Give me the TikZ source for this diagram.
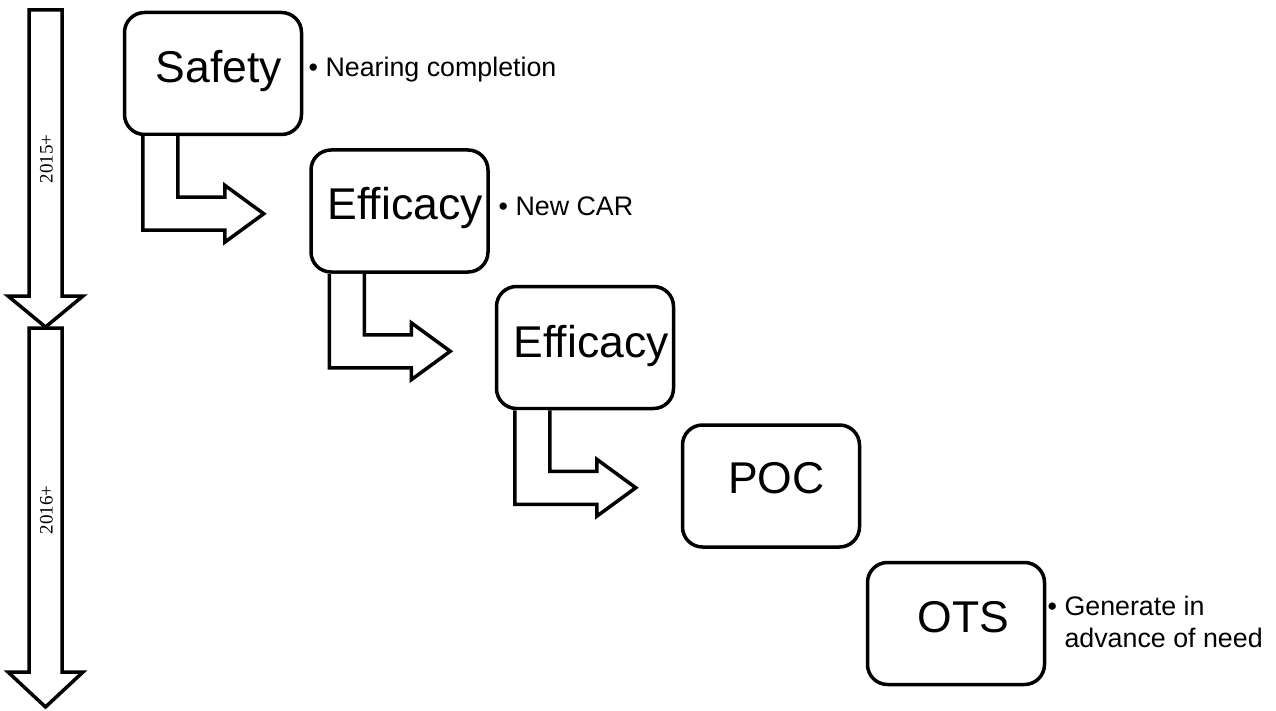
\documentclass[tikz,border=0pt]{standalone}
\usepackage{fontspec}
\setmainfont[Ligatures=NoCommon]{Liberation Sans}
\newfontfamily\yearfont{Liberation Serif}
\newcommand\bentarrowfrom[1]{%
  \draw[blockarrow, shift={(#1.south west)}]
    (20,0) -- (20,94) -- (102,94) -- (102,106) -- (141,77.5)
    -- (102,49) -- (102,61) -- (55,61) -- (55,0);}
\begin{document}
\begin{tikzpicture}[x=1pt,y=-1pt,
  stage/.style={draw=black, line width=3.5pt, rounded corners=20pt,
    minimum width=177pt, minimum height=122pt, inner sep=0pt},
  stagetext/.style={anchor=base west, inner sep=0pt,
    font=\fontsize{44.5}{50}\selectfont},
  note/.style={anchor=base west, inner sep=0pt,
    font=\fontsize{26.8}{32}\selectfont, align=left},
  blockarrow/.style={draw=black, line width=3.5pt, line join=miter, fill=white},
  yearlabel/.style={rotate=90, inner sep=0pt,
    font=\yearfont\fontsize{19}{21}\selectfont}]
\useasboundingbox (0,0) rectangle (1276,711);
\fill[white] (0,0) rectangle (1276,711);

% timeline arrows
\draw[blockarrow] (29,10) -- (62,10) -- (62,296) -- (83,296) -- (45.5,327)
  -- (8,296) -- (29,296) -- cycle;
\draw[blockarrow] (29,328) -- (62,328) -- (62,672) -- (83,672) -- (45.5,707)
  -- (8,672) -- (29,672) -- cycle;
\node[yearlabel] (y2015) at (46.5,159) {2015+};
\node[yearlabel] (y2016) at (46.5,510) {2016+};

% stage boxes
\node[stage] (safety) at (213,73.5) {};
\node[stage] (eff1) at (399.5,211) {};
\node[stage] (eff2) at (585,347.5) {};
\node[stage] (poc) at (771,486) {};
\node[stage] (ots) at (956,623.5) {};

\node[stagetext] (safetyt) at (155.5,83) {Safety};
\node[stagetext] (eff1t) at (327.5,220) {Efficacy};
\node[stagetext] (eff2t) at (513.5,357) {Efficacy};
\node[stagetext] (poct) at (728,493) {POC};
\node[stagetext] (otst) at (917.5,632) {OTS};

% bent arrows
\bentarrowfrom{safety}
\bentarrowfrom{eff1}
\bentarrowfrom{eff2}

% notes
\node[note] (safetynote) at (308.5,77) {• Nearing completion};
\node[note] (eff1note) at (498.5,216) {• New CAR};
\node[note] (otsnote) at (1047.5,615) {•\ \begin{tabular}[t]{@{}l@{}}Generate in\\ advance of need\end{tabular}};
\end{tikzpicture}
\end{document}
